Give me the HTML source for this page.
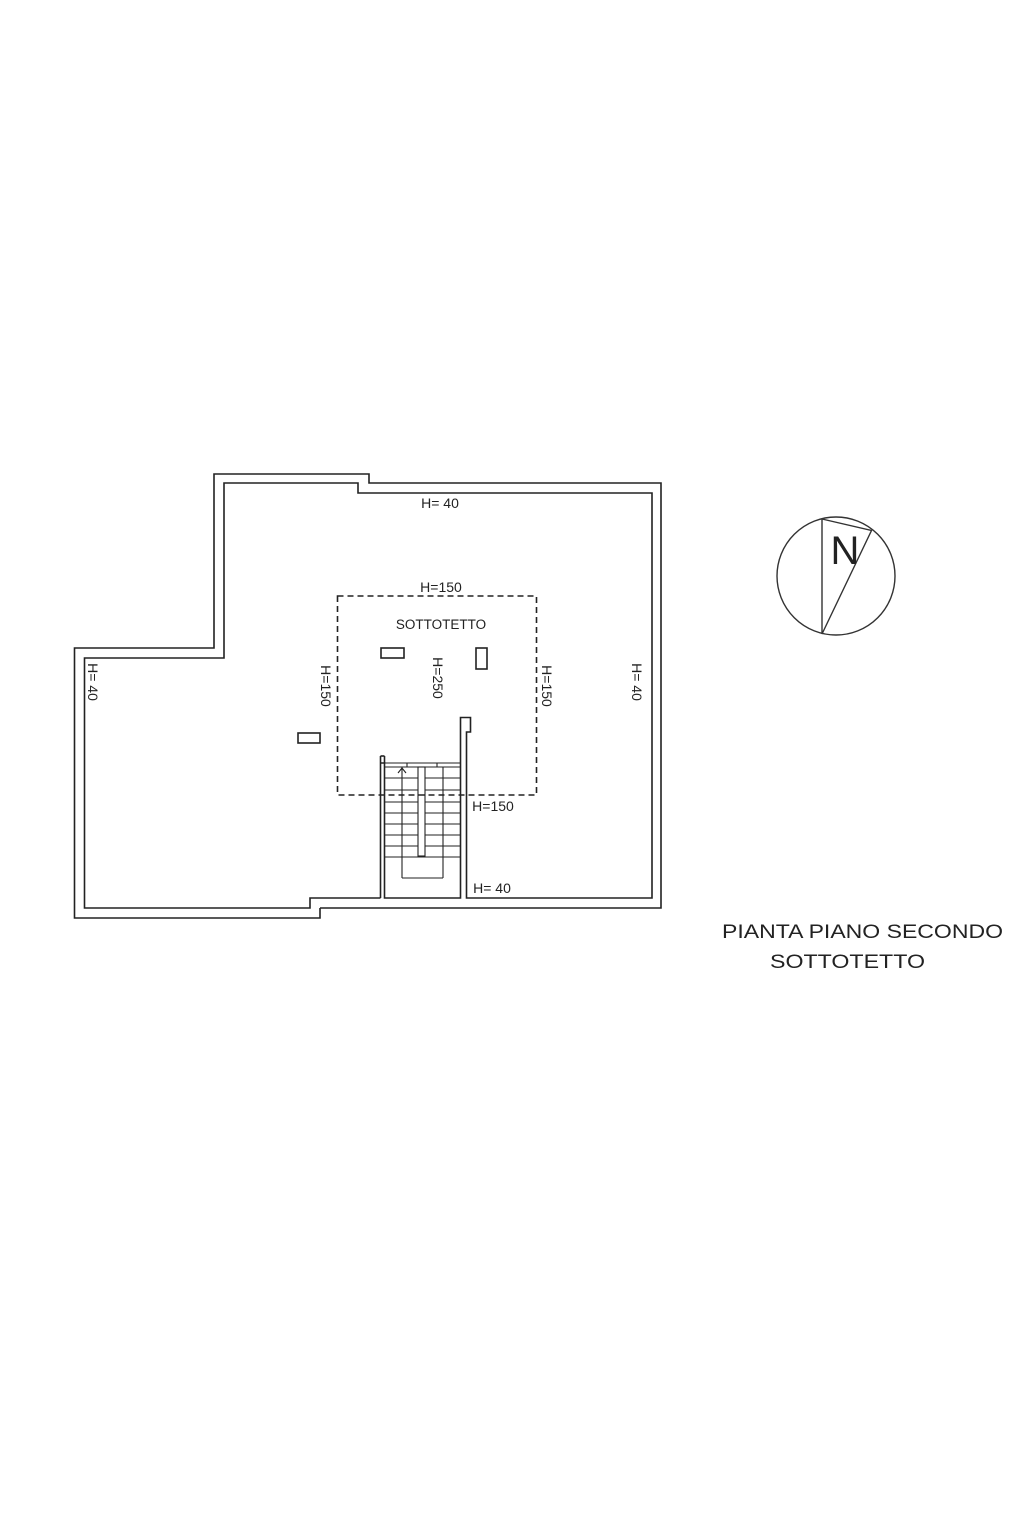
<!DOCTYPE html>
<html><head><meta charset="utf-8"><style>
html,body{margin:0;padding:0;background:#fff;}
svg{display:block;}
text{font-family:"Liberation Sans",sans-serif;fill:#222;}
</style></head><body>
<svg width="1023" height="1535" viewBox="0 0 1023 1535" xmlns="http://www.w3.org/2000/svg">
<g fill="none" stroke="#222" stroke-width="1.6">
<polyline points="320,908 661,908 661,483 369,483 369,474 214,474 214,648 74.5,648 74.5,918 320,918 320,908"/>
<polyline points="380.5,898 310,898 310,908 84.5,908 84.5,658 224,658 224,483 358,483 358,493 652,493 652,898 466.5,898 466.5,732 470.5,732 470.5,717.5 460.5,717.5 460.5,898 384.5,898 384.5,763 380.5,763 380.5,756 380.5,898"/>
<line x1="380.5" y1="756" x2="384.5" y2="756"/>
<line x1="384.5" y1="756" x2="384.5" y2="763"/>
<rect x="337.5" y="596" width="199" height="199" stroke-dasharray="6,4"/>
<rect x="381" y="648" width="23" height="10"/>
<rect x="476" y="648" width="11" height="21"/>
<rect x="298" y="733" width="22" height="10"/>
</g>
<g fill="none" stroke="#222" stroke-width="1.1">
<line x1="384.5" y1="763" x2="460.5" y2="763"/>
<line x1="384.5" y1="767" x2="460.5" y2="767"/>
<line x1="407" y1="763" x2="407" y2="767"/>
<line x1="437" y1="763" x2="437" y2="767"/>
<rect x="418" y="767" width="7" height="89"/>
<line x1="402" y1="767" x2="402" y2="878"/>
<line x1="443" y1="767" x2="443" y2="878"/>
<line x1="402" y1="878" x2="443" y2="878"/>
<g>
<line x1="384.5" y1="778" x2="418" y2="778"/><line x1="425" y1="778" x2="460.5" y2="778"/>
<line x1="384.5" y1="790" x2="418" y2="790"/><line x1="425" y1="790" x2="460.5" y2="790"/>
<line x1="384.5" y1="802" x2="418" y2="802"/><line x1="425" y1="802" x2="460.5" y2="802"/>
<line x1="384.5" y1="813" x2="418" y2="813"/><line x1="425" y1="813" x2="460.5" y2="813"/>
<line x1="384.5" y1="824" x2="418" y2="824"/><line x1="425" y1="824" x2="460.5" y2="824"/>
<line x1="384.5" y1="835" x2="418" y2="835"/><line x1="425" y1="835" x2="460.5" y2="835"/>
<line x1="384.5" y1="846" x2="418" y2="846"/><line x1="425" y1="846" x2="460.5" y2="846"/>
<line x1="384.5" y1="857" x2="460.5" y2="857"/>
</g>
<polyline points="398,773 402,768 406,773"/>
</g>
<g font-size="14">
<text x="440" y="508" text-anchor="middle">H= 40</text>
<text x="441" y="592" text-anchor="middle">H=150</text>
<text x="441" y="629" text-anchor="middle" font-size="13.5">SOTTOTETTO</text>
<text x="493" y="811" text-anchor="middle">H=150</text>
<text x="492" y="893" text-anchor="middle">H= 40</text>
<text transform="translate(88,682) rotate(90)" text-anchor="middle">H= 40</text>
<text transform="translate(321,686) rotate(90)" text-anchor="middle">H=150</text>
<text transform="translate(433,678) rotate(90)" text-anchor="middle">H=250</text>
<text transform="translate(542,686) rotate(90)" text-anchor="middle">H=150</text>
<text transform="translate(632,682) rotate(90)" text-anchor="middle">H= 40</text>
</g>
<g fill="none" stroke="#333" stroke-width="1.4">
<circle cx="836" cy="576" r="59"/>
<polyline points="822,519 822,634 871.5,530.5 822,519"/>
</g>
<text x="845" y="564" text-anchor="middle" font-size="40">N</text>
<text x="722" y="938" font-size="19" textLength="281" lengthAdjust="spacingAndGlyphs">PIANTA PIANO SECONDO</text>
<text x="770" y="968" font-size="19" textLength="155" lengthAdjust="spacingAndGlyphs">SOTTOTETTO</text>
</svg>
</body></html>
